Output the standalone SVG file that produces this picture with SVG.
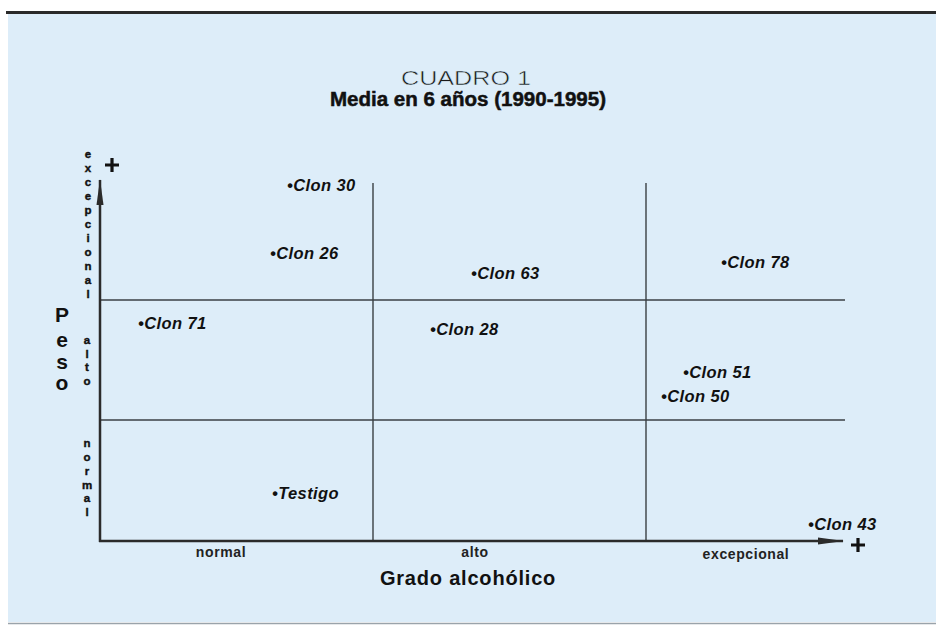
<svg xmlns="http://www.w3.org/2000/svg" width="936" height="629" viewBox="0 0 936 629">
<style>
.bg{fill:#ddedf9}
.axis{stroke:#2b2b2b;stroke-width:2.5;fill:none}
.grid{stroke:#3a3f44;stroke-width:1.4;fill:none}
.pt{font-family:"Liberation Sans",Arial,sans-serif;font-weight:bold;font-style:italic;font-size:16.5px;letter-spacing:0.4px;fill:#111}
.vl{font-family:"Liberation Sans",Arial,sans-serif;font-weight:bold;font-size:11.5px;fill:#111;stroke:#111;stroke-width:0.4;text-anchor:middle}
.peso{font-family:"Liberation Sans",Arial,sans-serif;font-weight:bold;font-size:21px;fill:#111;text-anchor:middle}
.xl{font-family:"Liberation Sans",Arial,sans-serif;font-weight:bold;font-size:14px;letter-spacing:0.6px;fill:#222;text-anchor:middle}
.plus{stroke:#111;stroke-width:3.2;fill:none}
</style>
<defs>
<marker id="arr" viewBox="0 0 26 8" refX="25" refY="4" markerWidth="26" markerHeight="8" markerUnits="userSpaceOnUse" orient="auto">
<path d="M0,0.5 L26,4 L0,7.5 Z" fill="#2b2b2b"/>
</marker>
</defs>
<rect x="0" y="0" width="936" height="629" fill="#ffffff"/>
<rect class="bg" x="8" y="14" width="928" height="608"/>
<line x1="6" y1="12.5" x2="936" y2="12.5" stroke="#2a2a2a" stroke-width="3"/>
<line x1="8" y1="623.5" x2="936" y2="623.5" stroke="#9aa3aa" stroke-width="1.5"/>

<g id="title">
<text x="466" y="85" text-anchor="middle" font-family="'Liberation Sans',sans-serif" font-size="20" textLength="130" lengthAdjust="spacingAndGlyphs" fill="#1a1a1a" stroke="#ddedf9" stroke-width="0.5">CUADRO 1</text>
<text x="468" y="106" text-anchor="middle" font-family="'Liberation Sans',Arial,sans-serif" font-weight="bold" font-size="20" textLength="276" lengthAdjust="spacingAndGlyphs" fill="#111" stroke="#111" stroke-width="0.5">Media en 6 años (1990-1995)</text>
</g>

<g id="connectors">
<line class="grid" x1="100" y1="300" x2="845" y2="300"/>
<line class="grid" x1="100" y1="420" x2="845" y2="420"/>
<line class="grid" x1="373" y1="183" x2="373" y2="541"/>
<line class="grid" x1="646" y1="183" x2="646" y2="541"/>
<line class="axis" x1="100" y1="542" x2="100" y2="180" marker-end="url(#arr)"/>
<line class="axis" x1="99" y1="541" x2="843" y2="541" marker-end="url(#arr)"/>
<path class="plus" d="M105,165 h14 M112,158 v14"/>
<path class="plus" d="M851,545 h14 M858,538 v14"/>
</g>

<g id="y-axis-labels">
<text class="peso"><tspan x="62" y="322">P</tspan><tspan x="62" y="347">e</tspan><tspan x="62" y="369">s</tspan><tspan x="62" y="390">o</tspan></text>
<text class="vl"><tspan x="88" y="158">e</tspan><tspan x="88" y="172">x</tspan><tspan x="88" y="186">c</tspan><tspan x="88" y="200">e</tspan><tspan x="88" y="214">p</tspan><tspan x="88" y="228">c</tspan><tspan x="88" y="242">i</tspan><tspan x="88" y="256">o</tspan><tspan x="88" y="270">n</tspan><tspan x="88" y="284">a</tspan><tspan x="88" y="298">l</tspan></text>
<text class="vl"><tspan x="87" y="344">a</tspan><tspan x="87" y="358">l</tspan><tspan x="87" y="371">t</tspan><tspan x="87" y="385">o</tspan></text>
<text class="vl"><tspan x="87" y="447">n</tspan><tspan x="87" y="461">o</tspan><tspan x="87" y="475">r</tspan><tspan x="87" y="489">m</tspan><tspan x="87" y="502">a</tspan><tspan x="87" y="516">l</tspan></text>
</g>

<g id="x-axis-labels">
<text class="xl" x="221" y="557">normal</text>
<text class="xl" x="475" y="557">alto</text>
<text class="xl" x="746" y="559">excepcional</text>
<text x="468" y="585" text-anchor="middle" font-family="'Liberation Sans',Arial,sans-serif" font-weight="bold" font-size="20" letter-spacing="0.8" fill="#111">Grado alcohólico</text>
</g>

<g id="clon30"><text class="pt" x="287" y="191">•Clon 30</text></g>
<g id="clon26"><text class="pt" x="270" y="259">•Clon 26</text></g>
<g id="clon71"><text class="pt" x="138" y="329">•Clon 71</text></g>
<g id="clon63"><text class="pt" x="471" y="279">•Clon 63</text></g>
<g id="clon78"><text class="pt" x="721" y="268">•Clon 78</text></g>
<g id="clon28"><text class="pt" x="430" y="335">•Clon 28</text></g>
<g id="clon51"><text class="pt" x="683" y="378">•Clon 51</text></g>
<g id="clon50"><text class="pt" x="661" y="402">•Clon 50</text></g>
<g id="testigo"><text class="pt" x="272" y="499">•Testigo</text></g>
<g id="clon43"><text class="pt" x="808" y="530">•Clon 43</text></g>
</svg>
